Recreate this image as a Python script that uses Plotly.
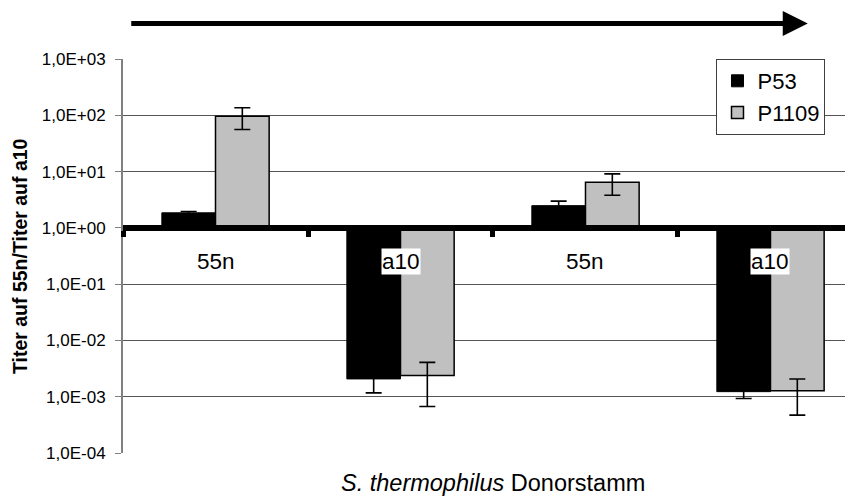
import plotly.graph_objects as go

# ---- data ----
categories = ["55n", "a10", "55n", "a10"]
series_names = ["P53", "P1109"]
p53_values = [1.85, 0.00207, 2.48, 0.00123]
p53_errors = [0.1, 0.0009, 0.5, 0.0003]
p1109_values = [96, 0.00237, 6.45, 0.00127]
p1109_errors = [40, 0.0017, 2.65, 0.0008]
ytick_values = [1e-4, 1e-3, 1e-2, 1e-1, 1e0, 1e1, 1e2, 1e3]
ytick_labels = ["1,0E-04", "1,0E-03", "1,0E-02", "1,0E-01",
                "1,0E+00", "1,0E+01", "1,0E+02", "1,0E+03"]
x_title = "<i>S. thermophilus</i> Donorstamm"
y_title = "<b>Titer auf 55n/Titer auf a10</b>"
baseline = 1.0

FONT = "Liberation Sans, Arial, sans-serif"
x_pos = list(range(len(categories)))


def bar_trace(name, values, errors, fill, lw):
    return go.Bar(
        name=name,
        x=x_pos,
        y=[v - baseline for v in values],
        base=[baseline] * len(values),
        marker=dict(color=fill, line=dict(color="black", width=lw)),
        error_y=dict(type="data", array=errors, visible=True,
                     color="black", thickness=1.6, width=8),
    )


fig = go.Figure()
fig.add_trace(bar_trace(series_names[0], p53_values, p53_errors, "black", 1))
fig.add_trace(bar_trace(series_names[1], p1109_values, p1109_errors, "#C0C0C0", 1.5))

# category labels
for i, lab in enumerate(categories):
    fig.add_annotation(x=i, y=-0.59, xref="x", yref="y", text=lab,
                       showarrow=False, bgcolor="white", borderpad=0,
                       font=dict(family=FONT, size=22.5, color="black"))

# axis titles
fig.add_annotation(x=0.507, y=-0.076, xref="paper", yref="paper", text=x_title,
                   showarrow=False, xanchor="center", yanchor="middle",
                   font=dict(family=FONT, size=23.5, color="black"))
fig.add_annotation(x=-0.141, y=0.5, xref="paper", yref="paper", text=y_title,
                   showarrow=False, textangle=-90, xanchor="center", yanchor="middle",
                   font=dict(family=FONT, size=19.5, color="black"))

# top arrow
fig.add_annotation(x=0.938, y=1.090, xref="paper", yref="paper", text="",
                   showarrow=True, ax=-678, ay=0, axref="pixel", ayref="pixel",
                   arrowhead=2, arrowwidth=5, arrowsize=1, arrowcolor="black")

fig.update_layout(
    width=845, height=495,
    margin=dict(l=115, r=0, t=51, b=50),
    paper_bgcolor="white", plot_bgcolor="white",
    barmode="group", bargap=0.42, bargroupgap=0,
    font=dict(family=FONT, color="black"),
    showlegend=True,
    legend=dict(x=0.813, y=1.0, xanchor="left", yanchor="top",
                bgcolor="white", bordercolor="#404040", borderwidth=1,
                font=dict(family=FONT, size=22, color="black"),
                tracegroupgap=0),
    xaxis=dict(
        type="linear", range=[-0.5, 3.446], anchor="free", position=4 / 7,
        showgrid=False, zeroline=False,
        showline=True, linecolor="black", linewidth=6,
        tickmode="array", tickvals=[-0.5, 0.5, 1.5, 2.5, 3.5],
        ticks="outside", ticklen=6, tickwidth=5, tickcolor="black",
        showticklabels=False,
    ),
    yaxis=dict(
        type="log", range=[-4, 3],
        tickmode="array", tickvals=ytick_values, ticktext=ytick_labels,
        showgrid=True, gridcolor="#555555", gridwidth=1,
        zeroline=False,
        showline=True, linecolor="#808080", linewidth=2,
        ticks="outside", ticklen=6, tickwidth=1, tickcolor="#808080",
        ticklabelstandoff=6,
        tickfont=dict(family=FONT, size=17, color="black"),
    ),
)

fig.write_html("out.html")
